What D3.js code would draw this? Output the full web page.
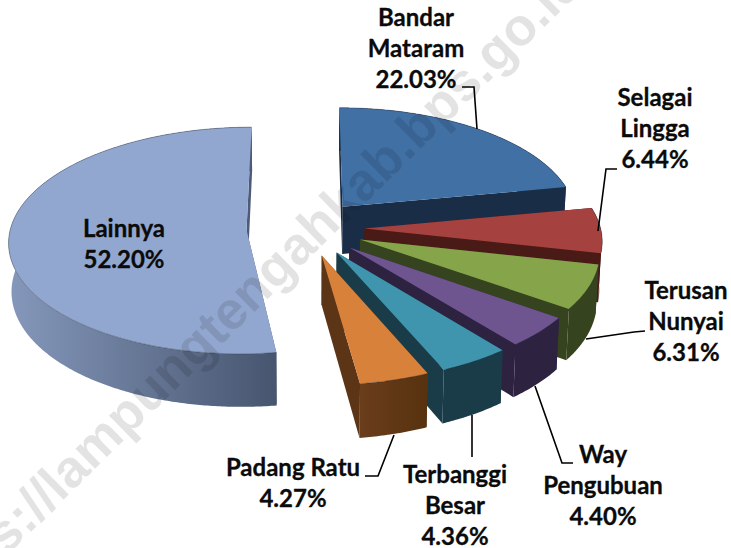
<!DOCTYPE html>
<html>
<head>
<meta charset="utf-8">
<script src="https://cdn.jsdelivr.net/npm/d3@7"></script>
<style>
    html, body { margin: 0; padding: 0; background: #fff; }
    svg { display: block; }
    .lbl { font-family: Lato, "Open Sans", sans-serif; font-weight: 700; font-size: 24px; fill: #0b0b0b; stroke: #0b0b0b; stroke-width: .3; text-anchor: middle; }
    .leader { fill: none; stroke: #000; stroke-width: 1.6; }
    .mark { font-family: "Liberation Sans", sans-serif; font-weight: 700; font-size: 53px; fill: #000; fill-opacity: .11; }
</style>
</head>
<body>
<div id="graph"></div>
<script>
const categories = ['Bandar Mataram', 'Selagai Lingga', 'Terusan Nunyai', 'Way Pengubuan', 'Terbanggi Besar', 'Padang Ratu', 'Lainnya'];
const shares = [22.03, 6.44, 6.31, 4.40, 4.36, 4.27, 52.20];
const shareLabels = ['22.03%', '6.44%', '6.31%', '4.40%', '4.36%', '4.27%', '52.20%'];
const labelLines = [['Bandar', 'Mataram'], ['Selagai', 'Lingga'], ['Terusan', 'Nunyai'], ['Way', 'Pengubuan'], ['Terbanggi', 'Besar'], ['Padang Ratu'], ['Lainnya']];

const topColors = ['#4170a5', '#a54240', '#86a44a', '#6f5590', '#3f95ad', '#d7813a', '#92a7cf'];
const sideColors = ['#1a2d47', '#4a1a17', '#36431f', '#2d2340', '#1a3b48', '#5c3416', '#4d5b78'];
const rimFrom = ['#1a2d47', '#4a1a17', '#36431f', '#2d2340', '#1a3b48', '#6a3d1b', '#8598bb'];
const rimTo = ['#1a2d47', '#4a1a17', '#36431f', '#2d2340', '#1a3b48', '#57320f', '#47556f'];

// where the label block is centred, first line, and the leader line under it
const labelPos = [[416, 26], [655, 106], [686, 299], [603, 463], [455, 483], [293, 476], [124, 237]];
const leaders = [
    [[462, 87], [474, 87], [477, 129]],
    [[617, 169], [606, 169], [598, 231]],
    [[645, 331], [634, 332], [586, 339]],
    [[573, 463], [562, 463], [535, 386]],
    [[472, 457], [472, 415]],
    [[365, 476], [378, 476], [394, 435]]
];

const width = 731, height = 548;
const cx = 305.5, cy = 228;      // pie centre on the page
const radiusX = 236, radiusY = 112;
const explode = 0.25;
const perspective = 0.093;
const depth = 48;

const TAU = Math.PI * 2;
const svg = d3.select('#graph').append('svg').attr('width', width).attr('height', height);
const defs = svg.append('defs');

const pie = d3.pie().sort(null).startAngle(0).endAngle(TAU);
const arcs = pie(shares);
const scaleX = d3.scaleLinear().domain([0, 1]).range([0, radiusX]);
const scaleY = d3.scaleLinear().domain([0, 1]).range([0, radiusY]);
const toPath = d3.line().x(p => p[0]).y(p => p[1]);

// X to the right, Y to the back of the table, low = true for the underside
function project(X, Y, low) {
    const s = 1 / (1 + perspective * Y);
    const shrink = low ? 0.99 : 1;
    return [cx + scaleX(X) * s * shrink, cy - scaleY(Y) * s + (low ? depth * s : 0)];
}

function sliceGeometry(a) {
    const mid = (a.startAngle + a.endAngle) / 2;
    const ox = Math.sin(mid) * explode;
    const oy = Math.cos(mid) * explode;
    const steps = Math.ceil((a.endAngle - a.startAngle) / 0.01);
    const angles = d3.range(steps + 1).map(i => a.startAngle + (a.endAngle - a.startAngle) * i / steps);
    const rim = low => angles.map(t => project(ox + Math.sin(t), oy + Math.cos(t), low));
    return { apexTop: project(ox, oy, false), apexLow: project(ox, oy, true), rimTop: rim(false), rimLow: rim(true) };
}

function drawSlice(group, a, i) {
    const g = sliceGeometry(a);
    const first = g.rimTop.length - 1;
    const gradId = 'rim' + i;
    const grad = defs.append('linearGradient').attr('id', gradId)
        .attr('gradientUnits', 'userSpaceOnUse')
        .attr('x1', d3.min(g.rimTop, p => p[0])).attr('x2', d3.max(g.rimTop, p => p[0]))
        .attr('y1', 0).attr('y2', 0);
    grad.append('stop').attr('offset', 0).attr('stop-color', rimFrom[i]);
    grad.append('stop').attr('offset', 1).attr('stop-color', rimTo[i]);

    // start wall, rim wall, end wall, then the lid
    group.append('path')
        .attr('d', toPath([g.apexTop, g.rimTop[0], g.rimLow[0], g.apexLow]) + 'Z')
        .attr('fill', sideColors[i]);
    group.append('path')
        .attr('d', toPath(g.rimTop.concat(g.rimLow.slice().reverse())) + 'Z')
        .attr('fill', `url(#${gradId})`);
    group.append('path')
        .attr('d', toPath([g.apexTop, g.rimTop[first], g.rimLow[first], g.apexLow]) + 'Z')
        .attr('fill', sideColors[i]);
    group.append('path')
        .attr('d', toPath([g.apexTop].concat(g.rimTop)) + 'Z')
        .attr('fill', topColors[i]);
    group.append('path')
        .attr('d', toPath(g.rimTop))
        .attr('fill', 'none')
        .attr('stroke', '#1c2533')
        .attr('stroke-opacity', 0.45)
        .attr('stroke-width', 0.8);
}

function drawPie() {
    const group = svg.append('g').attr('id', 'pie');
    arcs.forEach((a, i) => drawSlice(group.append('g').attr('class', 'slice'), a, i));
}

function drawLeaders() {
    svg.append('g').selectAll('path')
        .data(leaders)
        .enter()
        .append('path')
            .attr('class', 'leader')
            .attr('d', d => toPath(d));
}

function drawLabels() {
    const lineGap = 31;
    const blocks = svg.append('g').selectAll('text')
        .data(categories)
        .enter()
        .append('text')
            .attr('class', 'lbl')
            .attr('data-name', d => d);
    blocks.each(function(d, i) {
        const lines = labelLines[i].concat(shareLabels[i]);
        d3.select(this).selectAll('tspan')
            .data(lines)
            .enter()
            .append('tspan')
                .attr('x', labelPos[i][0])
                .attr('y', (l, n) => labelPos[i][1] + n * lineGap)
                .text(l => l);
    });
}

function drawWatermark() {
    svg.append('text')
        .attr('class', 'mark')
        .attr('transform', 'translate(-65 626) rotate(-44.5)')
        .text('https://lampungtengahkab.bps.go.id');
}

drawPie();
drawLeaders();
drawLabels();
drawWatermark();
</script>
</body>
</html>
